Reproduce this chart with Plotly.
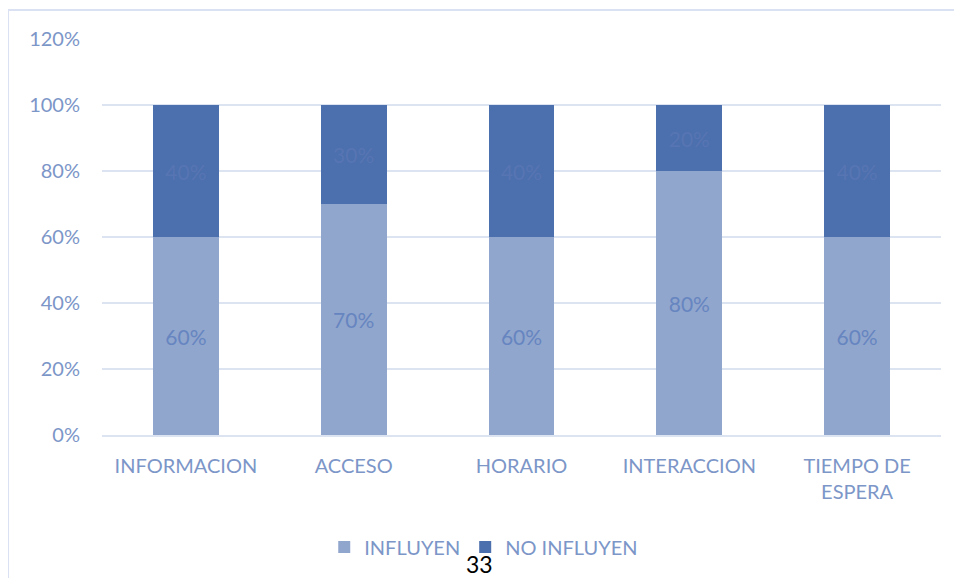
import plotly.graph_objects as go

categories = ["INFORMACION", "ACCESO", "HORARIO", "INTERACCION", "TIEMPO DE<br>ESPERA"]
influyen = [60, 70, 60, 80, 60]
no_influyen = [40, 30, 40, 20, 40]
y_ticks = [0, 20, 40, 60, 80, 100, 120]
y_tick_labels = ["0%", "20%", "40%", "60%", "80%", "100%", "120%"]

FONT = "Lato"
TICK_COLOR = "#7C96C8"
GRID = "#DCE3F1"

fig = go.Figure()
fig.add_trace(go.Bar(
    name="INFLUYEN", x=categories, y=influyen,
    marker=dict(color="#91A6CD", line=dict(width=0)),
    text=[f"{v}%" for v in influyen], textposition="inside",
    insidetextanchor="middle", textangle=0,
    textfont=dict(family=FONT, size=21, color="#6685C0"),
))
fig.add_trace(go.Bar(
    name="NO INFLUYEN", x=categories, y=no_influyen,
    marker=dict(color="#4C6FAD", line=dict(width=0)),
    text=[f"{v}%" for v in no_influyen], textposition="inside",
    insidetextanchor="middle", textangle=0,
    textfont=dict(family=FONT, size=21, color="#5775B3"),
))

fig.update_layout(
    barmode="stack",
    bargap=0.607,
    width=954, height=570,
    margin=dict(l=94, r=21, t=31, b=143),
    paper_bgcolor="white", plot_bgcolor="white",
    font=dict(family=FONT, size=20, color=TICK_COLOR),
    showlegend=True,
    legend=dict(orientation="h", x=0.455, xanchor="center", y=-0.283, yanchor="middle",
                font=dict(family=FONT, size=20, color=TICK_COLOR), traceorder="normal",
                itemwidth=30),
    uniformtext=dict(minsize=10, mode="show"),
)
fig.update_yaxes(range=[0, 120], tickvals=y_ticks, ticktext=y_tick_labels,
                 showgrid=True, gridcolor=GRID, gridwidth=2, zeroline=False,
                 showline=False, ticks="", ticklabelstandoff=21,
                 tickfont=dict(family=FONT, size=20, color=TICK_COLOR))
fig.update_xaxes(showgrid=False, showline=True, linecolor=GRID, linewidth=2, ticks="",
                 ticklabelstandoff=12,
                 tickfont=dict(family=FONT, size=20, color=TICK_COLOR))

# chart area border
fig.add_shape(type="rect", xref="paper", yref="paper", x0=-0.112, x1=1.2, y0=-0.6, y1=1.073,
              line=dict(color="#D9E1F2", width=2), fillcolor="rgba(0,0,0,0)", layer="below")
# page number
fig.add_annotation(text="33", xref="paper", yref="paper", x=0.4505, y=-0.365,
                   showarrow=False, font=dict(family=FONT, size=23, color="black"))

fig.write_html("out.html")
